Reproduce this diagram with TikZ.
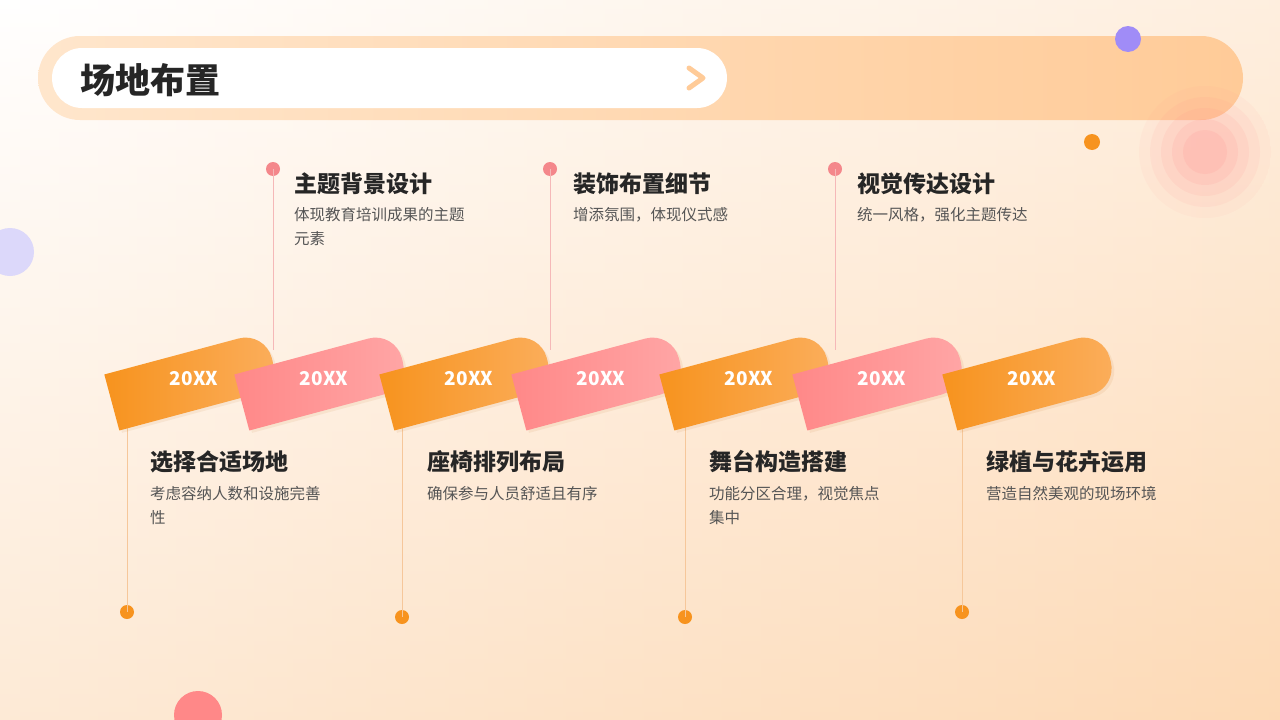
\documentclass[tikz,border=0pt]{standalone}
\usepackage{fontspec}
\setmainfont{Noto Sans CJK SC}
\definecolor{bgpeach}{HTML}{FDD6AE}
\definecolor{barc}{HTML}{FFCB98}
\definecolor{barl}{HTML}{FFE6CC}
\definecolor{org}{HTML}{F7931E}
\definecolor{orgl}{HTML}{FBAE5C}
\definecolor{pnk}{HTML}{FF8888}
\definecolor{pnkl}{HTML}{FFA6A6}
\definecolor{dotp}{HTML}{F4878B}
\definecolor{lineo}{HTML}{F6C79A}
\definecolor{linep}{HTML}{F5B8B8}
\definecolor{ttl}{HTML}{262626}
\definecolor{dsc}{HTML}{555555}
\definecolor{purp}{HTML}{A08CF7}
\definecolor{lav}{HTML}{DCD8FA}
\begin{document}
\begin{tikzpicture}[x=1pt,y=-1pt,
  ttlt/.style={anchor=west,font=\fontsize{23}{25}\selectfont\bfseries,text=ttl,inner sep=0},
  dsct/.style={anchor=north west,font=\fontsize{15.5}{24}\selectfont,text=dsc,inner sep=0,align=left},
  yr/.style={font=\fontsize{19}{20}\selectfont\bfseries,text=white,inner sep=0}]
\useasboundingbox (0,0) rectangle (1280,720);
\shade[left color=white,right color=bgpeach!80] (0,0) rectangle (1280,720);
\shade[top color=white,bottom color=bgpeach,opacity=0.5] (0,0) rectangle (1280,720);
% header
\shade[left color=barl,right color=barc,rounded corners=42] (38,36) rectangle (1243,120);
\fill[white,rounded corners=30] (52,48) rectangle (727,108);
\node[anchor=west,inner sep=0,font=\fontsize{35}{37}\selectfont\bfseries,text=ttl] (h) at (80,80) {场地布置};
\draw[barc,line width=5,line cap=round,line join=round] (689,68) -- (703,78) -- (689,88);
% decorations
\begin{scope}
\clip (1205,152) circle (66);
\foreach \r/\o in {66/0.05,55/0.08,44/0.1,33/0.12,22/0.14}{\fill[pnk,opacity=\o] (1205,152) circle (\r);}
\end{scope}
\fill[purp] (1128,39) circle (13);
\fill[org] (1092,142) circle (8);
\fill[lav] (10,252) circle (24);
\fill[pnk] (198,715) circle (24);
% top connectors
\foreach \x/\nm in {273/a,550/b,835/c}{
  \fill[dotp] (\x,169) circle (7) coordinate (d\nm);
  \coordinate (e\nm) at (\x,350);
  \draw[linep,line width=1] (d\nm) -- (e\nm);
}
\foreach \x/\y/\nm in {127/612/a,402/617/b,685/617/c,962/612/d}{
  \fill[org] (\x,\y) circle (7) coordinate (f\nm);
  \coordinate (g\nm) at (\x,425);
  \draw[lineo,line width=1] (f\nm) -- (g\nm);
}
% tabs
\foreach \cx/\c/\cl [count=\i] in {194/org/orgl,324/pnk/pnkl,469/org/orgl,601/pnk/pnkl,749/org/orgl,882/pnk/pnkl,1032/org/orgl}{
  \begin{scope}[shift={(\cx-2,381)},rotate=15]
    \fill[black!30!orange,opacity=0.08] (-81,32) -- (-81,-25) {[rounded corners=27] -- (85,-25) -- (85,32)} -- cycle;
    \shade[left color=\c,right color=\cl]
      (-83,29) -- (-83,-29) {[rounded corners=27] -- (83,-29) -- (83,29)} -- cycle;
  \end{scope}
  \node[yr] (t\i) at (\cx,379) {20XX};
}
% texts
\node[ttlt] (ta) at (294,184) {主题背景设计};
\node[dsct] (da) at (294,207) {体现教育培训成果的主题\\元素};
\node[ttlt] (tb) at (573,184) {装饰布置细节};
\node[dsct] (db) at (573,207) {增添氛围，体现仪式感};
\node[ttlt] (tc) at (857,184) {视觉传达设计};
\node[dsct] (dc) at (857,207) {统一风格，强化主题传达};
\node[ttlt] (ba) at (150,462) {选择合适场地};
\node[dsct] (ea) at (150,486) {考虑容纳人数和设施完善\\性};
\node[ttlt] (bb) at (427,462) {座椅排列布局};
\node[dsct] (eb) at (427,486) {确保参与人员舒适且有序};
\node[ttlt] (bc) at (709,462) {舞台构造搭建};
\node[dsct] (ec) at (709,486) {功能分区合理，视觉焦点\\集中};
\node[ttlt] (bd) at (986,462) {绿植与花卉运用};
\node[dsct] (ed) at (986,486) {营造自然美观的现场环境};
\end{tikzpicture}
\end{document}
